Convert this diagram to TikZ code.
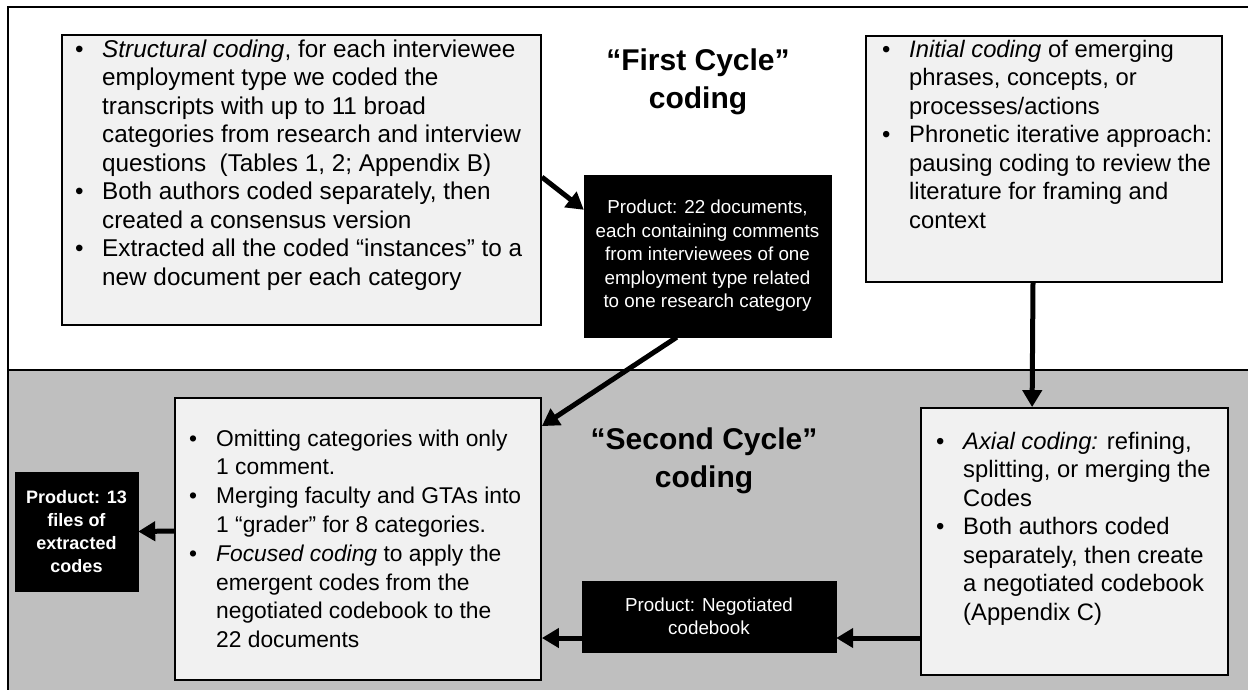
\documentclass[tikz,border=0pt]{standalone}
\usepackage{fontspec}
\setmainfont{Liberation Sans}
\usetikzlibrary{arrows.meta,calc}
\definecolor{bandgray}{HTML}{BFBFBF}
\definecolor{boxfill}{HTML}{F1F1F1}
\newcommand\prodfont{\fontsize{18.8}{23.5}\selectfont}
\tikzset{
  lightbox/.style={draw=black, line width=1.8pt, fill=boxfill, inner sep=0pt},
  blackbox/.style={draw=black, fill=black, text=white, inner sep=0pt, align=center, font=\prodfont},
  listtext/.style={anchor=base west, inner sep=0pt},
  titletext/.style={align=center, inner sep=0pt, font=\fontsize{30}{38}\selectfont\bfseries},
  flow/.style={line width=5pt, -{Triangle[length=17pt,width=19pt]}}
}
\begin{document}
\begin{tikzpicture}[x=1pt,y=-1pt]
\useasboundingbox (0,0) rectangle (1248,689);
\clip (0,0) rectangle (1248,689);
% frame
\draw[line width=1.8pt, fill=white] (8,7) rectangle (1262,370);
\draw[line width=1.8pt, fill=bandgray] (8,370) rectangle (1262,700);

% boxes
\node[lightbox, minimum width=479pt, minimum height=290pt] (b1) at (301.5,180) {};
\node[lightbox, minimum width=356pt, minimum height=246pt] (b3) at (1044,159) {};
\node[lightbox, minimum width=366pt, minimum height=282pt] (b2) at (358,539) {};
\node[lightbox, minimum width=307pt, minimum height=267pt] (b4) at (1074.5,541.5) {};

\node[blackbox, minimum width=247pt, minimum height=162pt] (p22) at (707.5,256)
  {Product: 22 documents,\\each containing comments\\from interviewees of one\\employment type related\\to one research category};
\node[blackbox, minimum width=254pt, minimum height=71pt] (neg) at (709,616.5)
  {Product: Negotiated\\codebook};
\node[blackbox, minimum width=123pt, minimum height=119pt, font=\fontsize{18}{23}\selectfont\bfseries] (p13) at (76.5,531.5)
  {Product: 13\\files of\\extracted\\codes};

% titles
\node[titletext] (title1) at (698,82) {“First Cycle”\\coding};
\node[titletext] (title2) at (704,461) {“Second Cycle”\\coding};

% list texts
\node[listtext, font=\fontsize{24.3}{28.5}\selectfont] (t1) at (75,57) {\begin{tabular}[t]{@{}p{27pt}@{}l@{}}
\textbullet & \textit{Structural coding}, for each interviewee\\
 & employment type we coded the\\
 & transcripts with up to 11 broad\\
 & categories from research and interview\\
 & questions\ \ (Tables 1, 2; Appendix B)\\
\textbullet & Both authors coded separately, then\\
 & created a consensus version\\
\textbullet & Extracted all the coded “instances” to a\\
 & new document per each category
\end{tabular}};

\node[listtext, font=\fontsize{23.8}{28.5}\selectfont] (t3) at (882,57) {\begin{tabular}[t]{@{}p{27pt}@{}l@{}}
\textbullet & \textit{Initial coding} of emerging\\
 & phrases, concepts, or\\
 & processes/actions\\
\textbullet & Phronetic iterative approach:\\
 & pausing coding to review the\\
 & literature for framing and\\
 & context
\end{tabular}};

\node[listtext, font=\fontsize{22.8}{28.8}\selectfont] (t2) at (189,446) {\begin{tabular}[t]{@{}p{27pt}@{}l@{}}
\textbullet & Omitting categories with only\\
 & 1 comment.\\
\textbullet & Merging faculty and GTAs into\\
 & 1 “grader” for 8 categories.\\
\textbullet & \textit{Focused coding} to apply the\\
 & emergent codes from the\\
 & negotiated codebook to the\\
 & 22 documents
\end{tabular}};

\node[listtext, font=\fontsize{23.8}{28.5}\selectfont] (t4) at (936,449) {\begin{tabular}[t]{@{}p{27pt}@{}l@{}}
\textbullet & \textit{Axial coding:} refining,\\
 & splitting, or merging the\\
 & Codes\\
\textbullet & Both authors coded\\
 & separately, then create\\
 & a negotiated codebook\\
 & (Appendix C)
\end{tabular}};

% connectors
\draw[flow] ($(b1.north east)+(0,143)$) -- ($(p22.north west)+(0,35)$);
\draw[flow] ($(p22.south west)+(93,0)$) -- ($(b2.north east)+(0,29)$);
\draw[flow] ($(b3.south)+(-11,0)$) -- ($(b4.north west)+(112,0)$);
\draw[flow] ($(b4.west)+(0,96.5)$) -- ($(neg.east)+(0,21.5)$);
\draw[flow] ($(neg.west)+(0,21.5)$) -- ($(b2.east)+(0,99)$);
\draw[flow] ($(b2.west)+(0,-8)$) -- (p13.east);
\end{tikzpicture}
\end{document}
